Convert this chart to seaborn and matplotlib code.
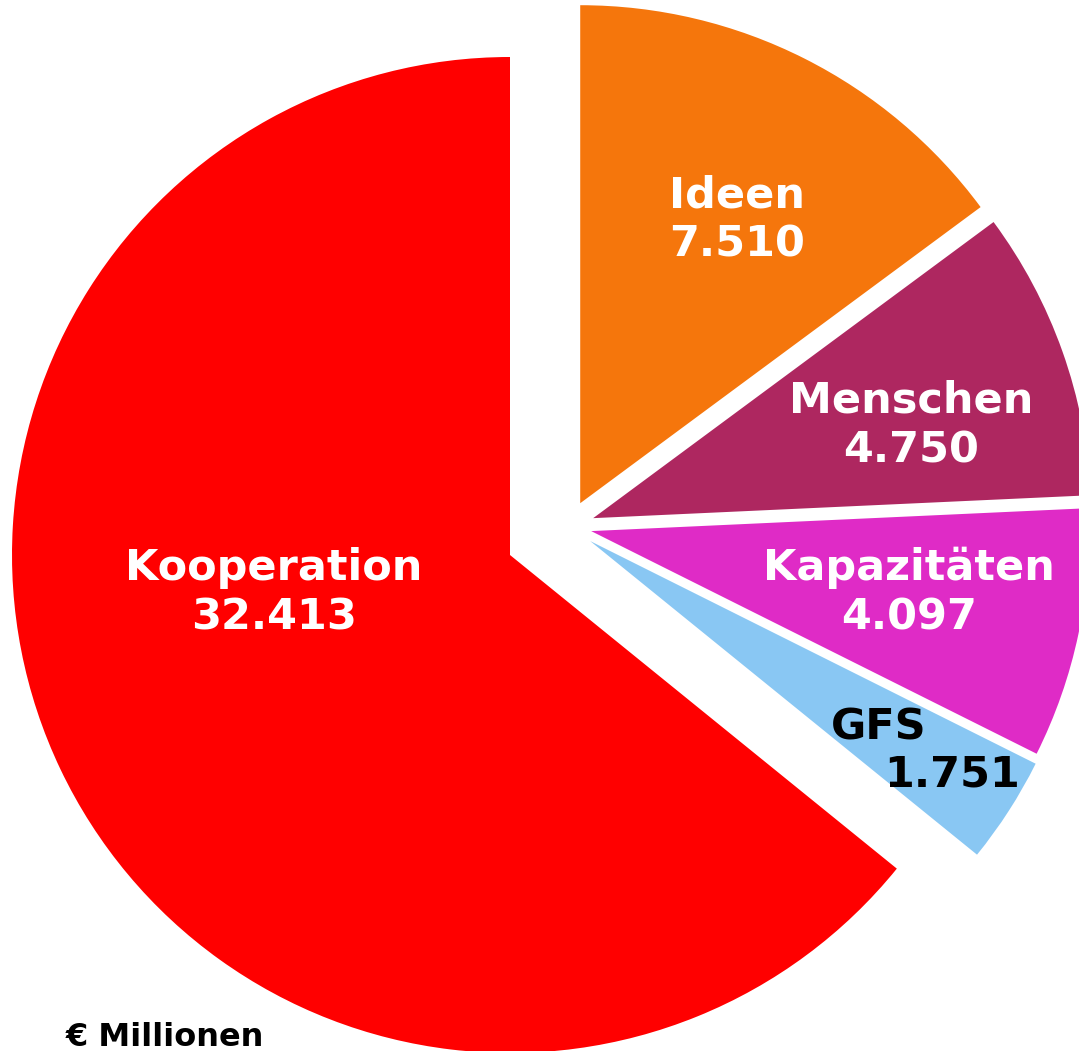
import numpy as np
import seaborn as sns
import matplotlib.pyplot as plt

# slice data, clockwise from 12 o'clock
categories = ["Ideen", "Menschen", "Kapazitäten", "GFS", "Kooperation"]
values = [7510, 4750, 4097, 1751, 32413]
value_labels = ["7.510", "4.750", "4.097", "1.751", "32.413"]

# styles
colors = ["#F5760C", "#AE2760", "#DF2BC6", "#89C7F3", "#FF0000"]
text_colors = ["white", "white", "white", "black", "white"]
# shift of each wedge away from the centre (radius units)
shifts = [(0.141, 0.104), (0.167, 0.074), (0.163, 0.048), (0.161, 0.028), (0.0, 0.0)]
label_dist = [0.65, 0.665, 0.65, 0.0, 0.48]
label_turn = [-2.3, -3.3, 1.0, 0.0, -16.4]

sns.set_theme(style="white")
plt.rcParams['font.family'] = ['DejaVu Sans']

fig = plt.figure(figsize=(10.79, 10.51), dpi=100)
ax = fig.add_axes([0, 0, 1, 1])

wedges, _ = ax.pie(
    values,
    colors=colors,
    startangle=90,
    counterclock=False,
    radius=1.0,
    wedgeprops=dict(linewidth=0),
)

for i, w in enumerate(wedges):
    cx, cy = shifts[i]
    w.set_center((cx, cy))
    mid = np.deg2rad((w.theta1 + w.theta2) / 2 + label_turn[i])
    if categories[i] == "GFS":
        ax.text(cx + 0.69 * np.cos(mid), cy + 0.69 * np.sin(mid), categories[i],
                ha="center", va="center", fontsize=31, fontweight="bold",
                color=text_colors[i])
        ax.text(cx + 0.865 * np.cos(mid), cy + 0.865 * np.sin(mid), value_labels[i],
                ha="center", va="center", fontsize=31, fontweight="bold",
                color=text_colors[i])
        continue
    d = label_dist[i]
    ax.text(cx + d * np.cos(mid), cy + d * np.sin(mid),
            f"{categories[i]}\n{value_labels[i]}",
            ha="center", va="center", fontsize=31, fontweight="bold",
            color=text_colors[i], linespacing=1.22)

# centre of the big wedge sits at (510, 555) px, radius about 498 px
ax.set_xlim(-510 / 498, (1079 - 510) / 498)
ax.set_ylim(-(1051 - 555) / 498, 555 / 498)
ax.set_aspect("auto")
ax.axis("off")

fig.text(66 / 1079, 1 - 1046 / 1051, "€ Millionen", ha="left", va="baseline",
         fontsize=23, fontweight="bold", color="black")

fig.savefig("out.png", dpi=100, facecolor="white")
